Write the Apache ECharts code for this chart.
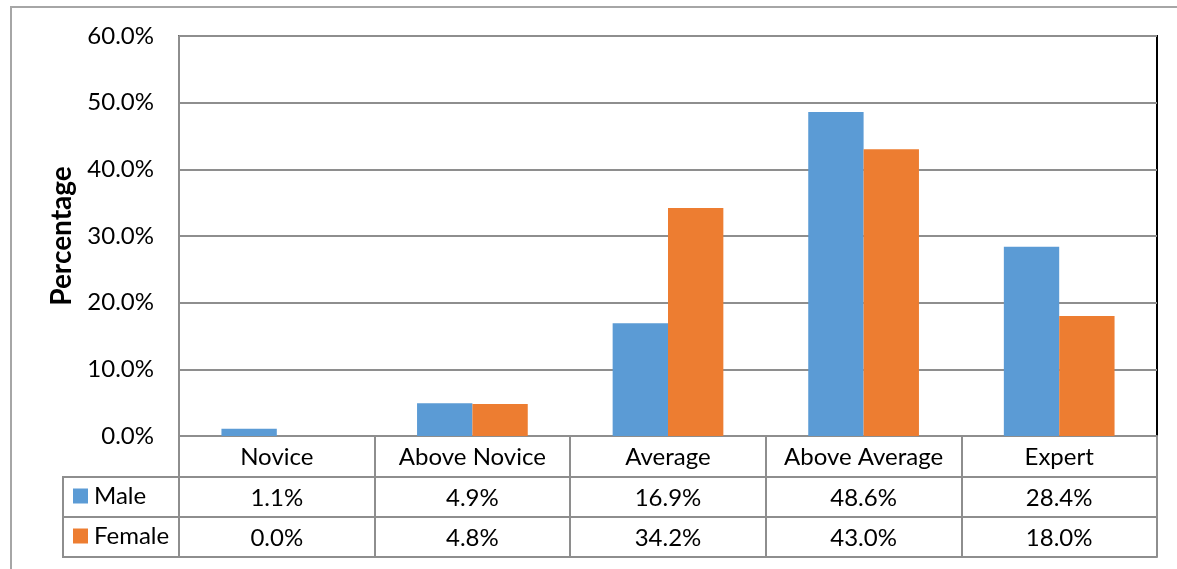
<!DOCTYPE html>
<html>
<head>
<meta charset="utf-8">
<script src="https://cdn.jsdelivr.net/npm/echarts@6/dist/echarts.min.js"></script>
<style>
  html, body { margin: 0; padding: 0; background: #fff; }
  #chart { width: 1177px; height: 569px; }
</style>
</head>
<body>
<div id="chart"></div>
<script>
// Self-rated skill level by gender (percent of respondents)
const categories = ['Novice', 'Above Novice', 'Average', 'Above Average', 'Expert'];
const maleValues = [1.1, 4.9, 16.9, 48.6, 28.4];
const femaleValues = [0.0, 4.8, 34.2, 43.0, 18.0];
const seriesNames = ['Male', 'Female'];
const yTicks = { min: 0, max: 60, interval: 10 };

const FONT = 'Lato, "Open Sans", sans-serif';
const FS = 24;
const GRAY = '#8e8e8e';
const BLUE = '#5b9bd5';
const ORANGE = '#ed7d31';
const fmt = v => v.toFixed(1) + '%';

const chart = echarts.init(document.getElementById('chart'), null, { renderer: 'canvas' });

// table rows under the plot are extra category axes sharing the same grid
function tableAxis(data, offset, showLabel) {
  return {
    type: 'category',
    data: data,
    position: 'bottom',
    offset: offset,
    gridIndex: 0,
    axisLine: { show: true, lineStyle: { color: GRAY, width: 2 } },
    axisTick: { show: false },
    axisLabel: {
      show: showLabel, interval: 0, margin: 9,
      color: '#000', fontFamily: FONT, fontSize: FS
    },
    splitLine: { show: false }
  };
}

// one legend block per table row
function rowLegend(name, top) {
  return {
    data: [name],
    left: 73, top: top,
    itemWidth: 15, itemHeight: 15,
    icon: 'rect',
    textStyle: { color: '#000', fontFamily: FONT, fontSize: FS, padding: [0, 0, 0, 1] },
    selectedMode: false,
    padding: 0
  };
}

chart.setOption({
  animation: false,
  color: [BLUE, ORANGE],
  grid: {
    left: 179, right: 20, top: 36, bottom: 133,
    show: true, borderColor: '#000', borderWidth: 2, backgroundColor: '#fff'
  },
  legend: [rowLegend(seriesNames[0], 484), rowLegend(seriesNames[1], 524)],
  xAxis: [
    {
      type: 'category',
      data: categories,
      position: 'bottom',
      axisLine: { show: true, lineStyle: { color: GRAY, width: 2 } },
      axisTick: { show: true, length: 121, interval: 0, lineStyle: { color: GRAY, width: 2 } },
      axisLabel: { interval: 0, margin: 9, color: '#000', fontFamily: FONT, fontSize: FS },
      splitLine: { show: false }
    },
    tableAxis(maleValues.map(fmt), 41, true),
    tableAxis(femaleValues.map(fmt), 81, true),
    tableAxis(categories, 121, false)
  ],
  yAxis: {
    type: 'value',
    min: yTicks.min, max: yTicks.max, interval: yTicks.interval,
    name: 'Percentage',
    nameLocation: 'middle',
    nameGap: 96,
    nameRotate: 90,
    nameTextStyle: { color: '#000', fontFamily: FONT, fontSize: 28, fontWeight: 'bold' },
    axisLine: { show: true, lineStyle: { color: GRAY, width: 2 } },
    axisTick: { show: false },
    axisLabel: { formatter: v => v.toFixed(1) + '%', margin: 25, color: '#000', fontFamily: FONT, fontSize: FS },
    splitLine: { show: true, lineStyle: { color: GRAY, width: 2 } }
  },
  series: [
    {
      name: seriesNames[0], type: 'bar', data: maleValues,
      barWidth: '28.3%', barGap: '0%', xAxisIndex: 0,
      itemStyle: { color: BLUE }
    },
    {
      name: seriesNames[1], type: 'bar', data: femaleValues,
      barWidth: '28.3%', barGap: '0%', xAxisIndex: 0,
      itemStyle: { color: ORANGE }
    }
  ],
  graphic: [
    // outer chart frame
    { type: 'rect', shape: { x: 11, y: 7, width: 1300, height: 700 },
      style: { fill: 'none', stroke: '#a6a6a6', lineWidth: 2 }, z: -1, silent: true },
    // legend column of the data table
    { type: 'polyline', shape: { points: [[179, 477], [63, 477], [63, 557], [179, 557]] },
      style: { fill: 'none', stroke: GRAY, lineWidth: 2 }, silent: true },
    { type: 'line', shape: { x1: 63, y1: 517, x2: 179, y2: 517 },
      style: { stroke: GRAY, lineWidth: 2 }, silent: true }
  ]
});
</script>
</body>
</html>
